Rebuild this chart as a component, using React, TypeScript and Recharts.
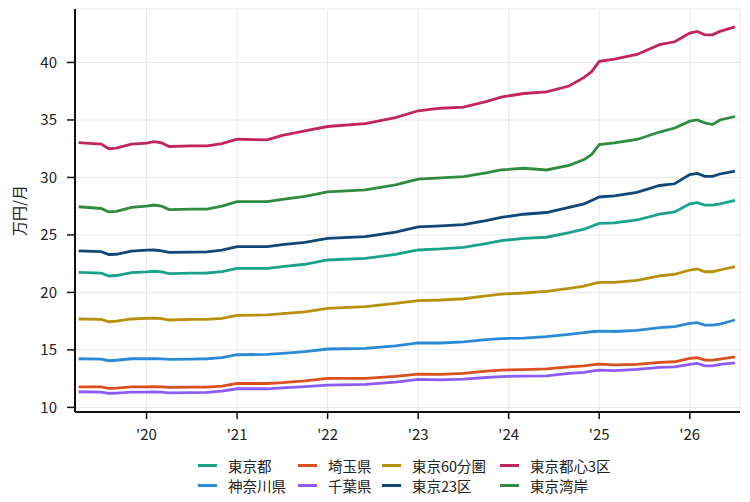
import React from 'react';
import { LineChart, Line, XAxis, YAxis, CartesianGrid } from 'recharts';

// Sampled months (YYYY-MM)
const months = [
  '2019-04', '2019-07', '2019-08', '2019-09', '2019-11', '2020-01', '2020-02', '2020-03', '2020-04', '2020-07',
  '2020-09', '2020-11', '2021-01', '2021-05', '2021-07', '2021-10', '2022-01', '2022-06', '2022-10', '2023-01',
  '2023-04', '2023-07', '2023-10', '2023-12', '2024-03', '2024-06', '2024-09', '2024-11', '2024-12', '2025-01',
  '2025-03', '2025-06', '2025-09', '2025-11', '2026-01', '2026-02', '2026-03', '2026-04', '2026-05', '2026-07',
];

const tokyo = [
  21.75, 21.67, 21.43, 21.47, 21.72, 21.78, 21.84, 21.78, 21.63, 21.68,
  21.69, 21.8, 22.1, 22.1, 22.25, 22.45, 22.82, 22.97, 23.3, 23.69,
  23.78, 23.92, 24.25, 24.5, 24.7, 24.8, 25.2, 25.5, 25.75, 26.0,
  26.05, 26.3, 26.8, 27.0, 27.7, 27.8, 27.6, 27.6, 27.7, 28.0,
];
const kanagawa = [
  14.23, 14.2, 14.06, 14.1, 14.23, 14.23, 14.25, 14.22, 14.18, 14.2,
  14.23, 14.32, 14.58, 14.61, 14.7, 14.85, 15.08, 15.14, 15.36, 15.62,
  15.6, 15.7, 15.9, 15.98, 16.03, 16.15, 16.35, 16.5, 16.58, 16.64,
  16.6, 16.7, 16.93, 17.02, 17.31, 17.37, 17.16, 17.16, 17.25, 17.6,
];
const saitama = [
  11.79, 11.79, 11.65, 11.68, 11.79, 11.79, 11.8, 11.78, 11.74, 11.76,
  11.77, 11.85, 12.08, 12.08, 12.15, 12.3, 12.52, 12.52, 12.7, 12.9,
  12.87, 12.96, 13.15, 13.25, 13.28, 13.35, 13.53, 13.62, 13.7, 13.77,
  13.7, 13.75, 13.92, 13.97, 14.27, 14.32, 14.12, 14.12, 14.2, 14.4,
];
const chiba = [
  11.36, 11.33, 11.22, 11.25, 11.33, 11.33, 11.35, 11.32, 11.27, 11.29,
  11.3, 11.42, 11.62, 11.62, 11.7, 11.8, 11.94, 12.0, 12.2, 12.44,
  12.4, 12.46, 12.6, 12.68, 12.72, 12.75, 12.96, 13.05, 13.15, 13.25,
  13.2, 13.3, 13.48, 13.53, 13.74, 13.83, 13.62, 13.62, 13.74, 13.88,
];
const tokyo60 = [
  17.69, 17.66, 17.45, 17.5, 17.69, 17.75, 17.77, 17.72, 17.6, 17.65,
  17.66, 17.75, 18.01, 18.04, 18.15, 18.3, 18.62, 18.76, 19.05, 19.28,
  19.34, 19.45, 19.7, 19.85, 19.95, 20.1, 20.35, 20.55, 20.72, 20.88,
  20.88, 21.05, 21.43, 21.58, 21.95, 22.04, 21.8, 21.8, 21.95, 22.24,
];
const tokyo23 = [
  23.61, 23.55, 23.3, 23.32, 23.6, 23.67, 23.69, 23.62, 23.49, 23.5,
  23.52, 23.68, 23.98, 23.98, 24.15, 24.35, 24.7, 24.85, 25.25, 25.7,
  25.78, 25.9, 26.25, 26.52, 26.8, 26.95, 27.4, 27.7, 28.0, 28.3,
  28.4, 28.7, 29.3, 29.45, 30.25, 30.35, 30.1, 30.1, 30.3, 30.55,
];
const tokyo3 = [
  33.03, 32.9, 32.5, 32.55, 32.9, 32.98, 33.12, 33.0, 32.69, 32.75,
  32.75, 32.95, 33.33, 33.27, 33.65, 34.05, 34.43, 34.68, 35.2, 35.8,
  36.02, 36.12, 36.6, 36.99, 37.3, 37.45, 37.95, 38.7, 39.2, 40.1,
  40.3, 40.7, 41.55, 41.8, 42.55, 42.7, 42.4, 42.4, 42.7, 43.1,
];
const bayside = [
  27.45, 27.3, 27.0, 27.05, 27.4, 27.5, 27.6, 27.5, 27.2, 27.25,
  27.25, 27.5, 27.9, 27.9, 28.1, 28.35, 28.75, 28.92, 29.35, 29.85,
  29.97, 30.08, 30.4, 30.65, 30.8, 30.65, 31.05, 31.55, 32.0, 32.85,
  33.0, 33.3, 33.95, 34.3, 34.9, 35.0, 34.75, 34.6, 35.0, 35.3,
];

const seriesNames = ['東京都', '神奈川県', '埼玉県', '千葉県', '東京60分圏', '東京23区', '東京都心3区', '東京湾岸'];
const seriesValues = [tokyo, kanagawa, saitama, chiba, tokyo60, tokyo23, tokyo3, bayside];
const seriesColors = ['#1aa38a', '#2b8ad6', '#d94f1e', '#8b5cf6', '#b8900c', '#0f4878', '#c2255c', '#2e8b40'];

const xTicks = [2020, 2021, 2022, 2023, 2024, 2025, 2026];
const xTickLabels = ["'20", "'21", "'22", "'23", "'24", "'25", "'26"];
const yTicks = [10, 15, 20, 25, 30, 35, 40];

const toYear = (s: string) => {
  const [y, m] = s.split('-').map(Number);
  return y + (m - 1) / 12;
};

const data = months.map((m, i) => {
  const row: Record<string, number> = { t: toYear(m) };
  seriesValues.forEach((vals, k) => {
    row['s' + k] = vals[i];
  });
  return row;
});

const FONT = '"Noto Sans CJK JP", "Noto Sans", sans-serif';

const YLabel = (props: any) => {
  const vb = props.viewBox || { y: 9, height: 403 };
  const cx = 18;
  const cy = vb.y + vb.height / 2;
  return (
    <text
      x={cx}
      y={cy}
      transform={`rotate(-90, ${cx}, ${cy})`}
      textAnchor="middle"
      dominantBaseline="central"
      fontSize={15}
      fill="#222"
      fontFamily={FONT}
    >
      万円/月
    </text>
  );
};

// legend layout: column-major, 2 rows x 4 cols
const legendColX = [198, 298, 382, 500];
const legendRowY = [465, 485];

export default function App() {
  return (
    <div style={{ position: 'absolute', left: 0, top: 0, width: 750, height: 502, background: '#fff', fontFamily: FONT }}>
      <LineChart width={750} height={502} data={data} margin={{ top: 9, right: 10, bottom: 60, left: 0 }}>
        <CartesianGrid stroke="#e8e8e8" strokeWidth={1} />
        <XAxis
          type="number"
          dataKey="t"
          domain={[2019.21, 2026.555]}
          allowDataOverflow
          ticks={xTicks}
          tickFormatter={(v: number) => xTickLabels[xTicks.indexOf(v)] ?? String(v)}
          height={30}
          axisLine={{ stroke: '#111', strokeWidth: 2 }}
          tickLine={{ stroke: '#111', strokeWidth: 1.5 }}
          tickSize={7}
          tickMargin={10}
          tick={{ fill: '#222', fontSize: 15, fontFamily: FONT }}
        />
        <YAxis
          type="number"
          domain={[9.6, 44.65]}
          allowDataOverflow
          ticks={yTicks}
          width={75}
          axisLine={{ stroke: '#111', strokeWidth: 2 }}
          tickLine={{ stroke: '#111', strokeWidth: 1.5 }}
          tickSize={8}
          tickMargin={10}
          tick={{ fill: '#222', fontSize: 15, fontFamily: FONT }}
          label={{ content: YLabel } as any}
        />
        {seriesNames.map((name, k) => (
          <Line
            key={name}
            type="linear"
            dataKey={'s' + k}
            name={name}
            stroke={seriesColors[k]}
            strokeWidth={2.8}
            dot={false}
            isAnimationActive={false}
          />
        ))}
      </LineChart>
      {seriesNames.map((name, k) => {
        const col = Math.floor(k / 2);
        const row = k % 2;
        return (
          <div
            key={name}
            style={{
              position: 'absolute',
              left: legendColX[col],
              top: legendRowY[row] - 10,
              height: 20,
              display: 'flex',
              alignItems: 'center',
              whiteSpace: 'nowrap',
              fontSize: 14.5,
              color: '#222',
              fontFamily: FONT,
            }}
          >
            <span style={{ display: 'inline-block', width: 19, height: 3, background: seriesColors[k], marginRight: 11 }} />
            <span>{name}</span>
          </div>
        );
      })}
    </div>
  );
}
